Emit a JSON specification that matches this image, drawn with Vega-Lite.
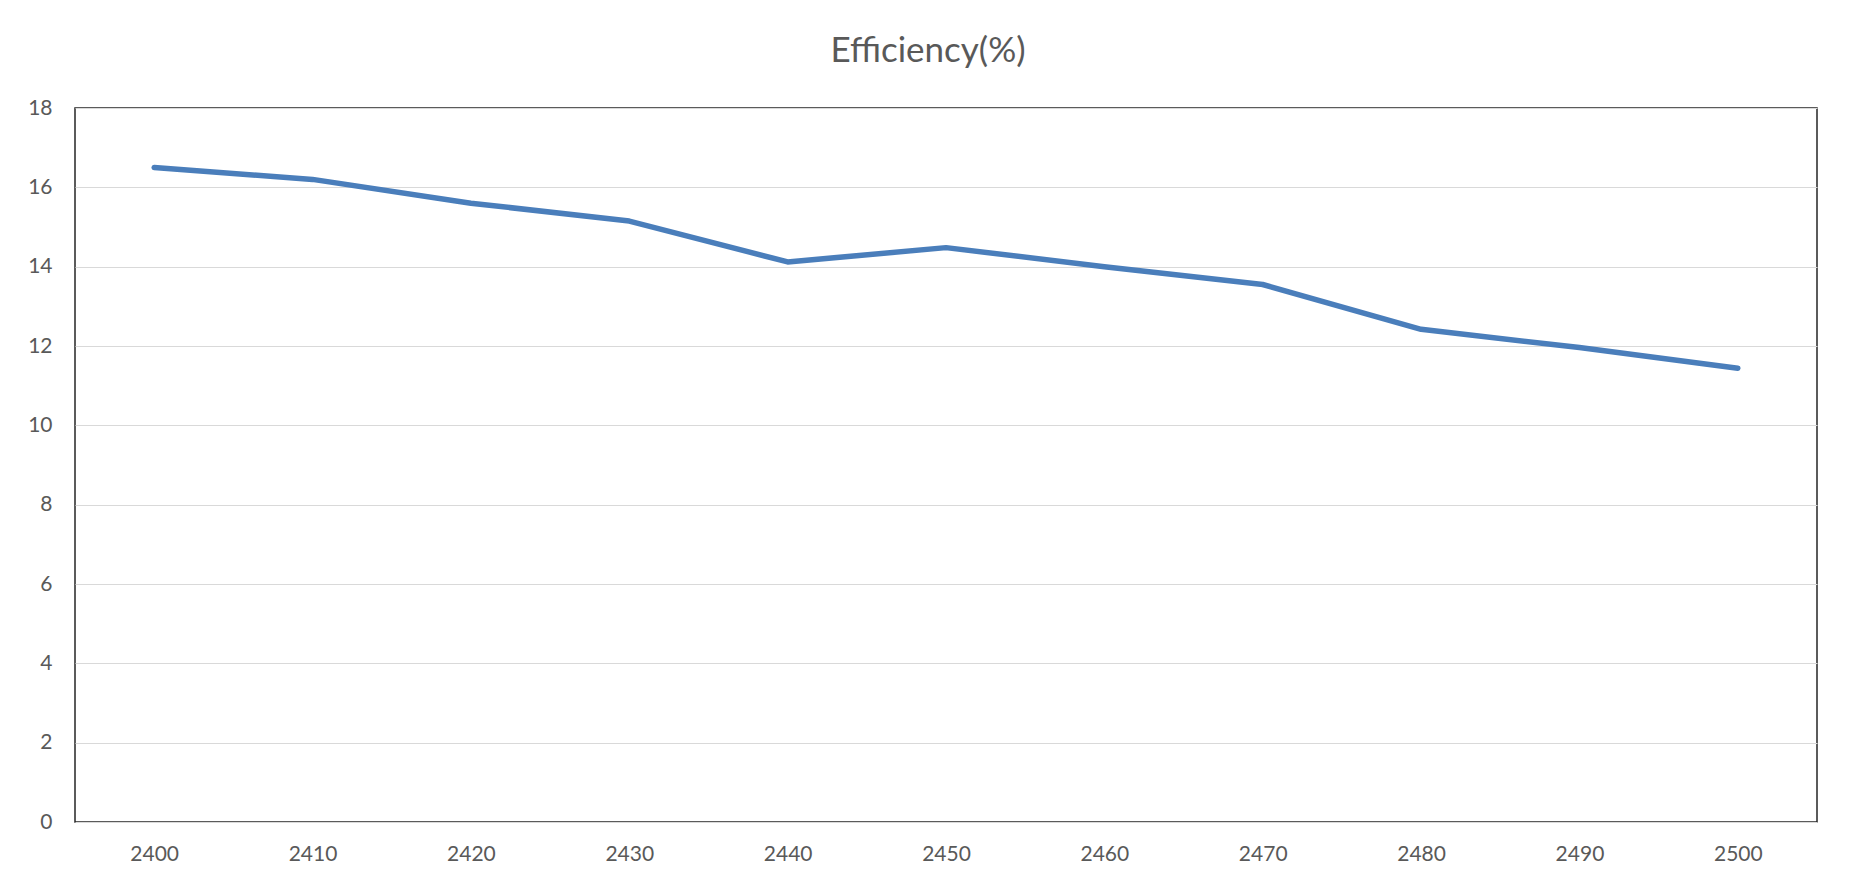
{
  "$schema": "https://vega.github.io/schema/vega-lite/v6.json",
  "autosize": {"type": "none"},
  "width": 1742,
  "height": 714,
  "padding": {"left": 75, "top": 108, "right": 39, "bottom": 65},
  "background": "white",
  "title": {
    "text": "Efficiency(%)",
    "font": "Lato",
    "fontSize": 35,
    "fontWeight": "normal",
    "color": "#595959",
    "anchor": "middle",
    "dx": -18,
    "offset": 28
  },
  "data": {
    "values": [
      {"frequency": 2400, "efficiency": 16.5},
      {"frequency": 2410, "efficiency": 16.2},
      {"frequency": 2420, "efficiency": 15.6},
      {"frequency": 2430, "efficiency": 15.15},
      {"frequency": 2440, "efficiency": 14.12},
      {"frequency": 2450, "efficiency": 14.48},
      {"frequency": 2460, "efficiency": 14.0},
      {"frequency": 2470, "efficiency": 13.55},
      {"frequency": 2480, "efficiency": 12.42},
      {"frequency": 2490, "efficiency": 11.96},
      {"frequency": 2500, "efficiency": 11.44}
    ]
  },
  "mark": {"type": "line", "color": "#4A7EBB", "strokeWidth": 5.5, "strokeCap": "round", "strokeJoin": "round"},
  "encoding": {
    "x": {
      "field": "frequency",
      "type": "ordinal",
      "scale": {"type": "point", "padding": 0.5},
      "axis": {
        "title": null,
        "labelAngle": 0,
        "ticks": false,
        "domain": false,
        "grid": false,
        "labelFont": "Lato",
        "labelFontSize": 21,
        "labelColor": "#595959",
        "labelPadding": 21
      }
    },
    "y": {
      "field": "efficiency",
      "type": "quantitative",
      "scale": {"domain": [0, 18], "nice": false, "zero": true},
      "axis": {
        "title": null,
        "values": [0, 2, 4, 6, 8, 10, 12, 14, 16, 18],
        "ticks": false,
        "domain": false,
        "grid": true,
        "gridColor": "#d9d9d9",
        "gridWidth": 1.2,
        "labelFont": "Lato",
        "labelFontSize": 21,
        "labelColor": "#595959",
        "labelPadding": 23
      }
    }
  },
  "config": {
    "view": {"stroke": "#262626", "strokeWidth": 1.5}
  }
}
